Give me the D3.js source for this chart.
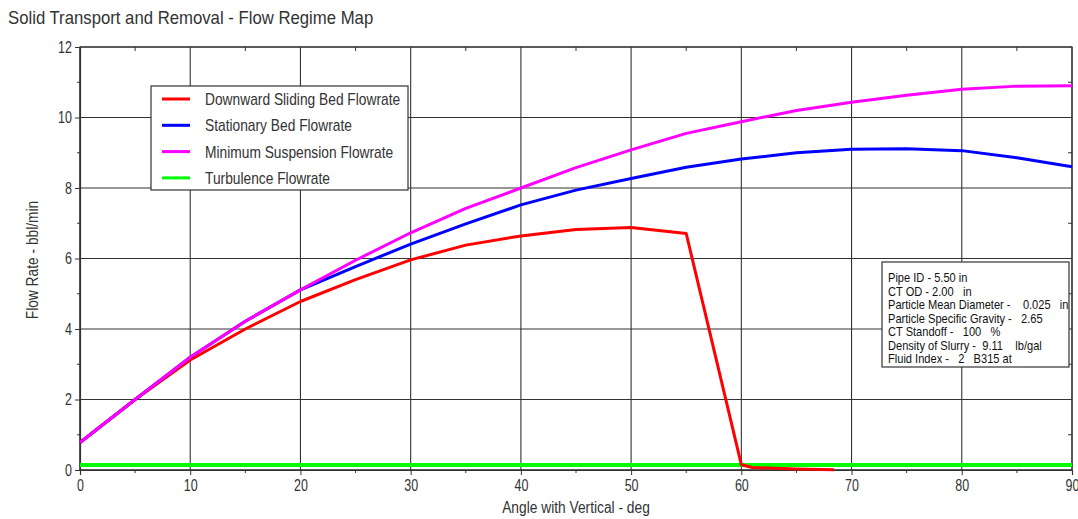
<!DOCTYPE html>
<html>
<head>
<meta charset="utf-8">
<script src="https://cdn.jsdelivr.net/npm/d3@7"></script>
<style>
  html, body { margin: 0; padding: 0; background: #fff; }
  svg { display: block; }
  text { font-family: "Liberation Sans", Arial, sans-serif; }
</style>
</head>
<body>
<svg id="chart" width="1078" height="519"></svg>
<script>
// Angle with vertical (deg)
const angles = [0, 5, 10, 15, 20, 25, 30, 35, 40, 45, 50, 55, 60, 65, 70, 75, 80, 85, 90];

// Flowrates, bbl/min
const minSuspension = [0.78, 2.0, 3.2, 4.22, 5.11, 5.95, 6.73, 7.42, 8.0, 8.58, 9.08, 9.55, 9.88, 10.2, 10.43, 10.63, 10.8, 10.89, 10.9];
const stationaryBed = [0.78, 2.0, 3.2, 4.22, 5.11, 5.77, 6.41, 6.98, 7.52, 7.94, 8.27, 8.59, 8.82, 9.0, 9.1, 9.11, 9.06, 8.86, 8.6];
const slidingAngles = [0, 5, 10, 15, 20, 25, 30, 35, 40, 45, 50, 55, 60, 61, 63, 65, 68.4];
const slidingBed = [0.78, 2.0, 3.12, 4.0, 4.78, 5.4, 5.96, 6.38, 6.64, 6.82, 6.88, 6.71, 0.15, 0.07, 0.05, 0.03, 0.01];
const turbulence = [0.14, 0.14, 0.14, 0.14, 0.14, 0.14, 0.14, 0.14, 0.14, 0.14, 0.14, 0.14, 0.14, 0.14, 0.14, 0.14, 0.14, 0.14, 0.14];

const xTicks = [0, 10, 20, 30, 40, 50, 60, 70, 80, 90];
const yTicks = [0, 2, 4, 6, 8, 10, 12];

const seriesNames = ["Downward Sliding Bed Flowrate", "Stationary Bed Flowrate", "Minimum Suspension Flowrate", "Turbulence Flowrate"];
const seriesColors = ["#ff0000", "#0000ff", "#ff00ff", "#00ff00"];

const infoLines = [
  "Pipe ID - 5.50 in",
  "CT OD - 2.00   in",
  "Particle Mean Diameter -    0.025   in",
  "Particle Specific Gravity -   2.65",
  "CT Standoff -   100   %",
  "Density of Slurry -  9.11    lb/gal",
  "Fluid Index -   2   B315 at"
];

const svg = d3.select("#chart");
const plotLeft = 80, plotRight = 1072, plotTop = 47, plotBottom = 470;

const x = d3.scaleLinear().domain([0, 90]).range([plotLeft, plotRight]);
const y = d3.scaleLinear().domain([0, 12]).range([plotBottom, plotTop]);

const gridColor = "#333";
const textColor = "#333";

// Squeeze text horizontally to get a condensed face
function condense(sel, factor) {
  sel.each(function () {
    const w = this.getComputedTextLength();
    d3.select(this).attr("textLength", w * factor).attr("lengthAdjust", "spacingAndGlyphs");
  });
  return sel;
}

// Title
svg.append("text")
  .attr("x", 8).attr("y", 24)
  .attr("font-size", 19)
  .attr("fill", textColor)
  .text("Solid Transport and Removal - Flow Regime Map")
  .call(condense, 0.88);

// Grid
const grid = svg.append("g");
grid.selectAll("line.v").data(xTicks).join("line")
  .attr("class", "v")
  .attr("x1", d => x(d)).attr("x2", d => x(d))
  .attr("y1", plotTop).attr("y2", plotBottom)
  .attr("stroke", gridColor).attr("stroke-width", 1.1);
grid.selectAll("line.h").data(yTicks).join("line")
  .attr("class", "h")
  .attr("x1", plotLeft).attr("x2", plotRight)
  .attr("y1", d => y(d)).attr("y2", d => y(d))
  .attr("stroke", gridColor).attr("stroke-width", 1.1);

// Frame
svg.append("rect")
  .attr("x", plotLeft).attr("y", plotTop)
  .attr("width", plotRight - plotLeft).attr("height", plotBottom - plotTop)
  .attr("fill", "none").attr("stroke", gridColor).attr("stroke-width", 1.2);

// Inner minor ticks on top and right edges
const xMinor = d3.range(5, 90, 10);
const yMinor = d3.range(1, 12, 2);
svg.append("g").selectAll("line").data(xMinor).join("line")
  .attr("x1", d => x(d)).attr("x2", d => x(d))
  .attr("y1", plotTop).attr("y2", plotTop + 4)
  .attr("stroke", gridColor);
svg.append("g").selectAll("line").data(yMinor).join("line")
  .attr("x1", plotRight).attr("x2", plotRight - 4)
  .attr("y1", d => y(d)).attr("y2", d => y(d))
  .attr("stroke", gridColor);

// Axes
const xAxis = d3.axisBottom(x).tickValues(xTicks).tickSize(5).tickPadding(5).tickFormat(d3.format("d"));
const yAxis = d3.axisLeft(y).tickValues(yTicks).tickSize(5).tickPadding(3).tickFormat(d3.format("d"));

const gx = svg.append("g").attr("transform", `translate(0,${plotBottom})`).call(xAxis);
const gy = svg.append("g").attr("transform", `translate(${plotLeft},0)`).call(yAxis);
[gx, gy].forEach(g => {
  g.attr("font-family", null);
  g.select(".domain").attr("stroke", gridColor).attr("stroke-width", 1.2);
  g.selectAll(".tick line").attr("stroke", gridColor);
  g.selectAll(".tick text")
    .attr("font-size", 16)
    .attr("fill", textColor)
    .call(condense, 0.78);
});
// Minor ticks on outer axes
svg.append("g").selectAll("line").data(xMinor).join("line")
  .attr("x1", d => x(d)).attr("x2", d => x(d))
  .attr("y1", plotBottom).attr("y2", plotBottom + 3)
  .attr("stroke", gridColor);
svg.append("g").selectAll("line").data(yMinor).join("line")
  .attr("x1", plotLeft).attr("x2", plotLeft - 3)
  .attr("y1", d => y(d)).attr("y2", d => y(d))
  .attr("stroke", gridColor);

// Axis titles
svg.append("text")
  .attr("x", 576).attr("y", 513)
  .attr("text-anchor", "middle")
  .attr("font-size", 16).attr("fill", textColor)
  .text("Angle with Vertical - deg")
  .call(condense, 0.86);
svg.append("text")
  .attr("transform", `translate(38,260) rotate(-90)`)
  .attr("text-anchor", "middle")
  .attr("font-size", 16).attr("fill", textColor)
  .text("Flow Rate - bbl/min")
  .call(condense, 0.86);

// Curves
const line = d3.line().x(d => x(d[0])).y(d => y(d[1]));
const curves = [
  { xs: angles, ys: turbulence, color: seriesColors[3], w: 4 },
  { xs: slidingAngles, ys: slidingBed, color: seriesColors[0], w: 3 },
  { xs: angles, ys: stationaryBed, color: seriesColors[1], w: 3 },
  { xs: angles, ys: minSuspension, color: seriesColors[2], w: 3 }
];
const plot = svg.append("g");
curves.forEach(c => {
  plot.append("path")
    .datum(c.xs.map((a, i) => [a, c.ys[i]]))
    .attr("d", line)
    .attr("fill", "none")
    .attr("stroke", c.color)
    .attr("stroke-width", c.w)
    .attr("stroke-linejoin", "round");
});

// Legend
const legend = svg.append("g");
legend.append("rect")
  .attr("x", 151).attr("y", 86).attr("width", 257).attr("height", 104)
  .attr("fill", "#fff").attr("stroke", "#333").attr("stroke-width", 1.2);
seriesNames.forEach((name, i) => {
  const yy = 99 + i * 26.3;
  legend.append("line")
    .attr("x1", 162).attr("x2", 190).attr("y1", yy).attr("y2", yy)
    .attr("stroke", seriesColors[i]).attr("stroke-width", 3);
  legend.append("text")
    .attr("x", 205).attr("y", yy + 6)
    .attr("font-size", 17).attr("fill", textColor)
    .text(name)
    .call(condense, 0.81);
});

// Parameter box
const info = svg.append("g");
info.append("rect")
  .attr("x", 882).attr("y", 262).attr("width", 187).attr("height", 105)
  .attr("fill", "#fff").attr("stroke", "#333").attr("stroke-width", 1.2);
infoLines.forEach((t, i) => {
  info.append("text")
    .attr("x", 888).attr("y", 282 + i * 13.5)
    .attr("font-size", 12.6).attr("fill", "#111")
    .style("white-space", "pre")
    .text(t)
    .call(condense, 0.88);
});
</script>
</body>
</html>
